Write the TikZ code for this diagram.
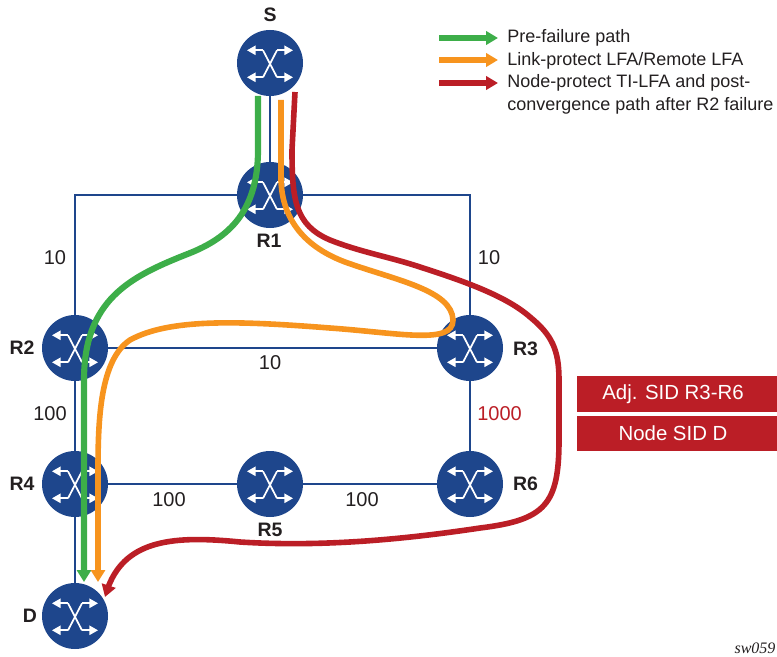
\documentclass[tikz,border=0pt]{standalone}
\usepackage{fontspec}
\setmainfont{Liberation Sans}
\newfontfamily\tagfont{Liberation Serif}
\usetikzlibrary{arrows.meta,backgrounds,bending}
\definecolor{rblue}{RGB}{30,70,140}
\definecolor{pgreen}{RGB}{61,174,73}
\definecolor{porange}{RGB}{247,148,30}
\definecolor{pred}{RGB}{187,30,38}
\definecolor{ink}{RGB}{35,31,32}
\newcommand{\routericon}{%
  \begin{scope}[shift={(path picture bounding box.center)},draw=white,line width=1.3pt,
     tip/.style={-{Triangle[length=6.5pt,width=7pt]}}]
    \draw[tip] (-7,-12.7) -- (-23,-12.7);
    \draw[tip] (7,-12.7) -- (23,-12.7);
    \draw[tip] (-7,14.3) -- (-23,14.3);
    \draw[tip] (7,14.3) -- (23,14.3);
    \draw (-7,-12.7) -- (7,14.3);
    \draw (7,-12.7) -- (-7,14.3);
  \end{scope}}
\tikzset{
  x=0.75pt,y=-0.75pt,
  router/.style={circle,fill=rblue,draw=none,minimum size=49.5pt,inner sep=0pt,path picture={\routericon}},
  link/.style={draw=rblue,line width=1.5pt},
  path green/.style={draw=pgreen,line width=4.6pt,-{Triangle[length=9pt,width=10.5pt,flex=1]}},
  path orange/.style={draw=porange,line width=4.2pt,-{Triangle[length=9pt,width=10.5pt,flex=1]}},
  path red/.style={draw=pred,line width=4.2pt,-{Triangle[length=9pt,width=10.5pt,flex=1]}},
  legend green/.style={draw=pgreen,line width=4.3pt,-{Triangle[length=9pt,width=10pt,flex=1]}},
  legend orange/.style={draw=porange,line width=4.3pt,-{Triangle[length=9pt,width=10pt,flex=1]}},
  legend red/.style={draw=pred,line width=4.3pt,-{Triangle[length=9pt,width=10pt,flex=1]}},
  rname/.style={font=\bfseries\fontsize{14.6}{17}\selectfont,text=ink,inner sep=0pt},
  metric/.style={font=\fontsize{15}{18}\selectfont,text=ink,inner sep=0pt},
  legendtext/.style={font=\fontsize{13.5}{16}\selectfont,text=ink,inner sep=0pt,anchor=west},
  sidbox/.style={fill=pred,text=white,font=\fontsize{15.3}{18}\selectfont,minimum width=150pt,inner sep=0pt},
}
\begin{document}
\begin{tikzpicture}
\useasboundingbox (0,0) rectangle (777,656);
% routers
\node[router] (S)  at (270,63) {};
\node[router] (R1) at (270,195) {};
\node[router] (R2) at (75,348) {};
\node[router] (R3) at (470,348) {};
\node[router] (R4) at (75,484) {};
\node[router] (R5) at (270,484) {};
\node[router] (R6) at (470,484) {};
\node[router] (D)  at (75,616) {};
% links
\begin{scope}[on background layer]
\draw[link] (S) -- (R1);
\draw[link] (R1) -| (R2);
\draw[link] (R1) -| (R3);
\draw[link] (R2) -- (R3);
\draw[link] (R2) -- (R4);
\draw[link] (R4) -- (D);
\draw[link] (R3) -- (R6);
\draw[link] (R4) -- (R5);
\draw[link] (R5) -- (R6);
\end{scope}
% router names
\node[rname] (lS)  at (270,15) {S};
\node[rname] (lR1) at (269,241) {R1};
\node[rname] (lR2) at (22,348) {R2};
\node[rname] (lR3) at (525.5,349) {R3};
\node[rname] (lR4) at (22,484) {R4};
\node[rname] (lR5) at (270,530) {R5};
\node[rname] (lR6) at (525.5,484) {R6};
\node[rname] (lD)  at (30,616) {D};
% metrics
\node[metric] (m1) at (55,258) {10};
\node[metric] (m2) at (489,258) {10};
\node[metric] (m3) at (270,363) {10};
\node[metric] (m4) at (50,414) {100};
\node[metric,text=pred] (m5) at (499.5,414) {1000};
\node[metric] (m6) at (169,500) {100};
\node[metric] (m7) at (362,500) {100};
% free ends of the coloured paths
\coordinate (gs) at (258,96);
\coordinate (os) at (281,100);
\coordinate (rs) at (295,92);
% pre-failure path
\draw[path green] (gs) -- (258,150)
  .. controls (258,215) and (225,240) .. (185,255)
  .. controls (130,277) and (84,300) .. (84,380)
  -- (84,582);
% link-protect path
\draw[path orange] (os) -- (281,180)
  .. controls (282,215) and (300,245) .. (345,262)
  .. controls (395,280) and (452,290) .. (453,320)
  .. controls (453,345) and (400,333) .. (330,328)
  .. controls (240,321) and (170,318) .. (130,340)
  .. controls (100,360) and (98,420) .. (98,470)
  -- (98,582);
% node-protect path
\draw[path red] (rs) -- (292,150)
  .. controls (292,200) and (295,225) .. (330,240)
  .. controls (360,252) and (390,257) .. (420,267)
  .. controls (460,280) and (505,295) .. (530,317)
  .. controls (552,335) and (559,350) .. (559,380)
  -- (559,440)
  .. controls (559,505) and (545,520) .. (480,528)
  .. controls (400,540) and (320,547) .. (240,542)
  .. controls (170,535) and (120,540) .. (105,597);
% legend
\coordinate (g1) at (439,38); \coordinate (g2) at (498,38);
\coordinate (o1) at (439,60); \coordinate (o2) at (498,60);
\coordinate (r1) at (439,83); \coordinate (r2) at (498,83);
\draw[legend green] (g1) -- (g2);
\draw[legend orange] (o1) -- (o2);
\draw[legend red] (r1) -- (r2);
\node[legendtext] (t1) at (507,38) {Pre-failure path};
\node[legendtext] (t2) at (507,61) {Link-protect LFA/Remote LFA};
\node[legendtext] (t3) at (507,83) {Node-protect TI-LFA and post-};
\node[legendtext] (t4) at (507,106) {convergence path after R2 failure};
% SID boxes
\node[sidbox,minimum height=27pt] (b1) at (677,394) {Adj. SID R3-R6\kern6pt};
\node[sidbox,minimum height=26pt] (b2) at (677,433.5) {Node SID D\kern6pt};
\node[font=\tagfont\itshape\fontsize{12}{14}\selectfont,text=ink,inner sep=0pt] (tag) at (755,648) {sw059};
\end{tikzpicture}
\end{document}
